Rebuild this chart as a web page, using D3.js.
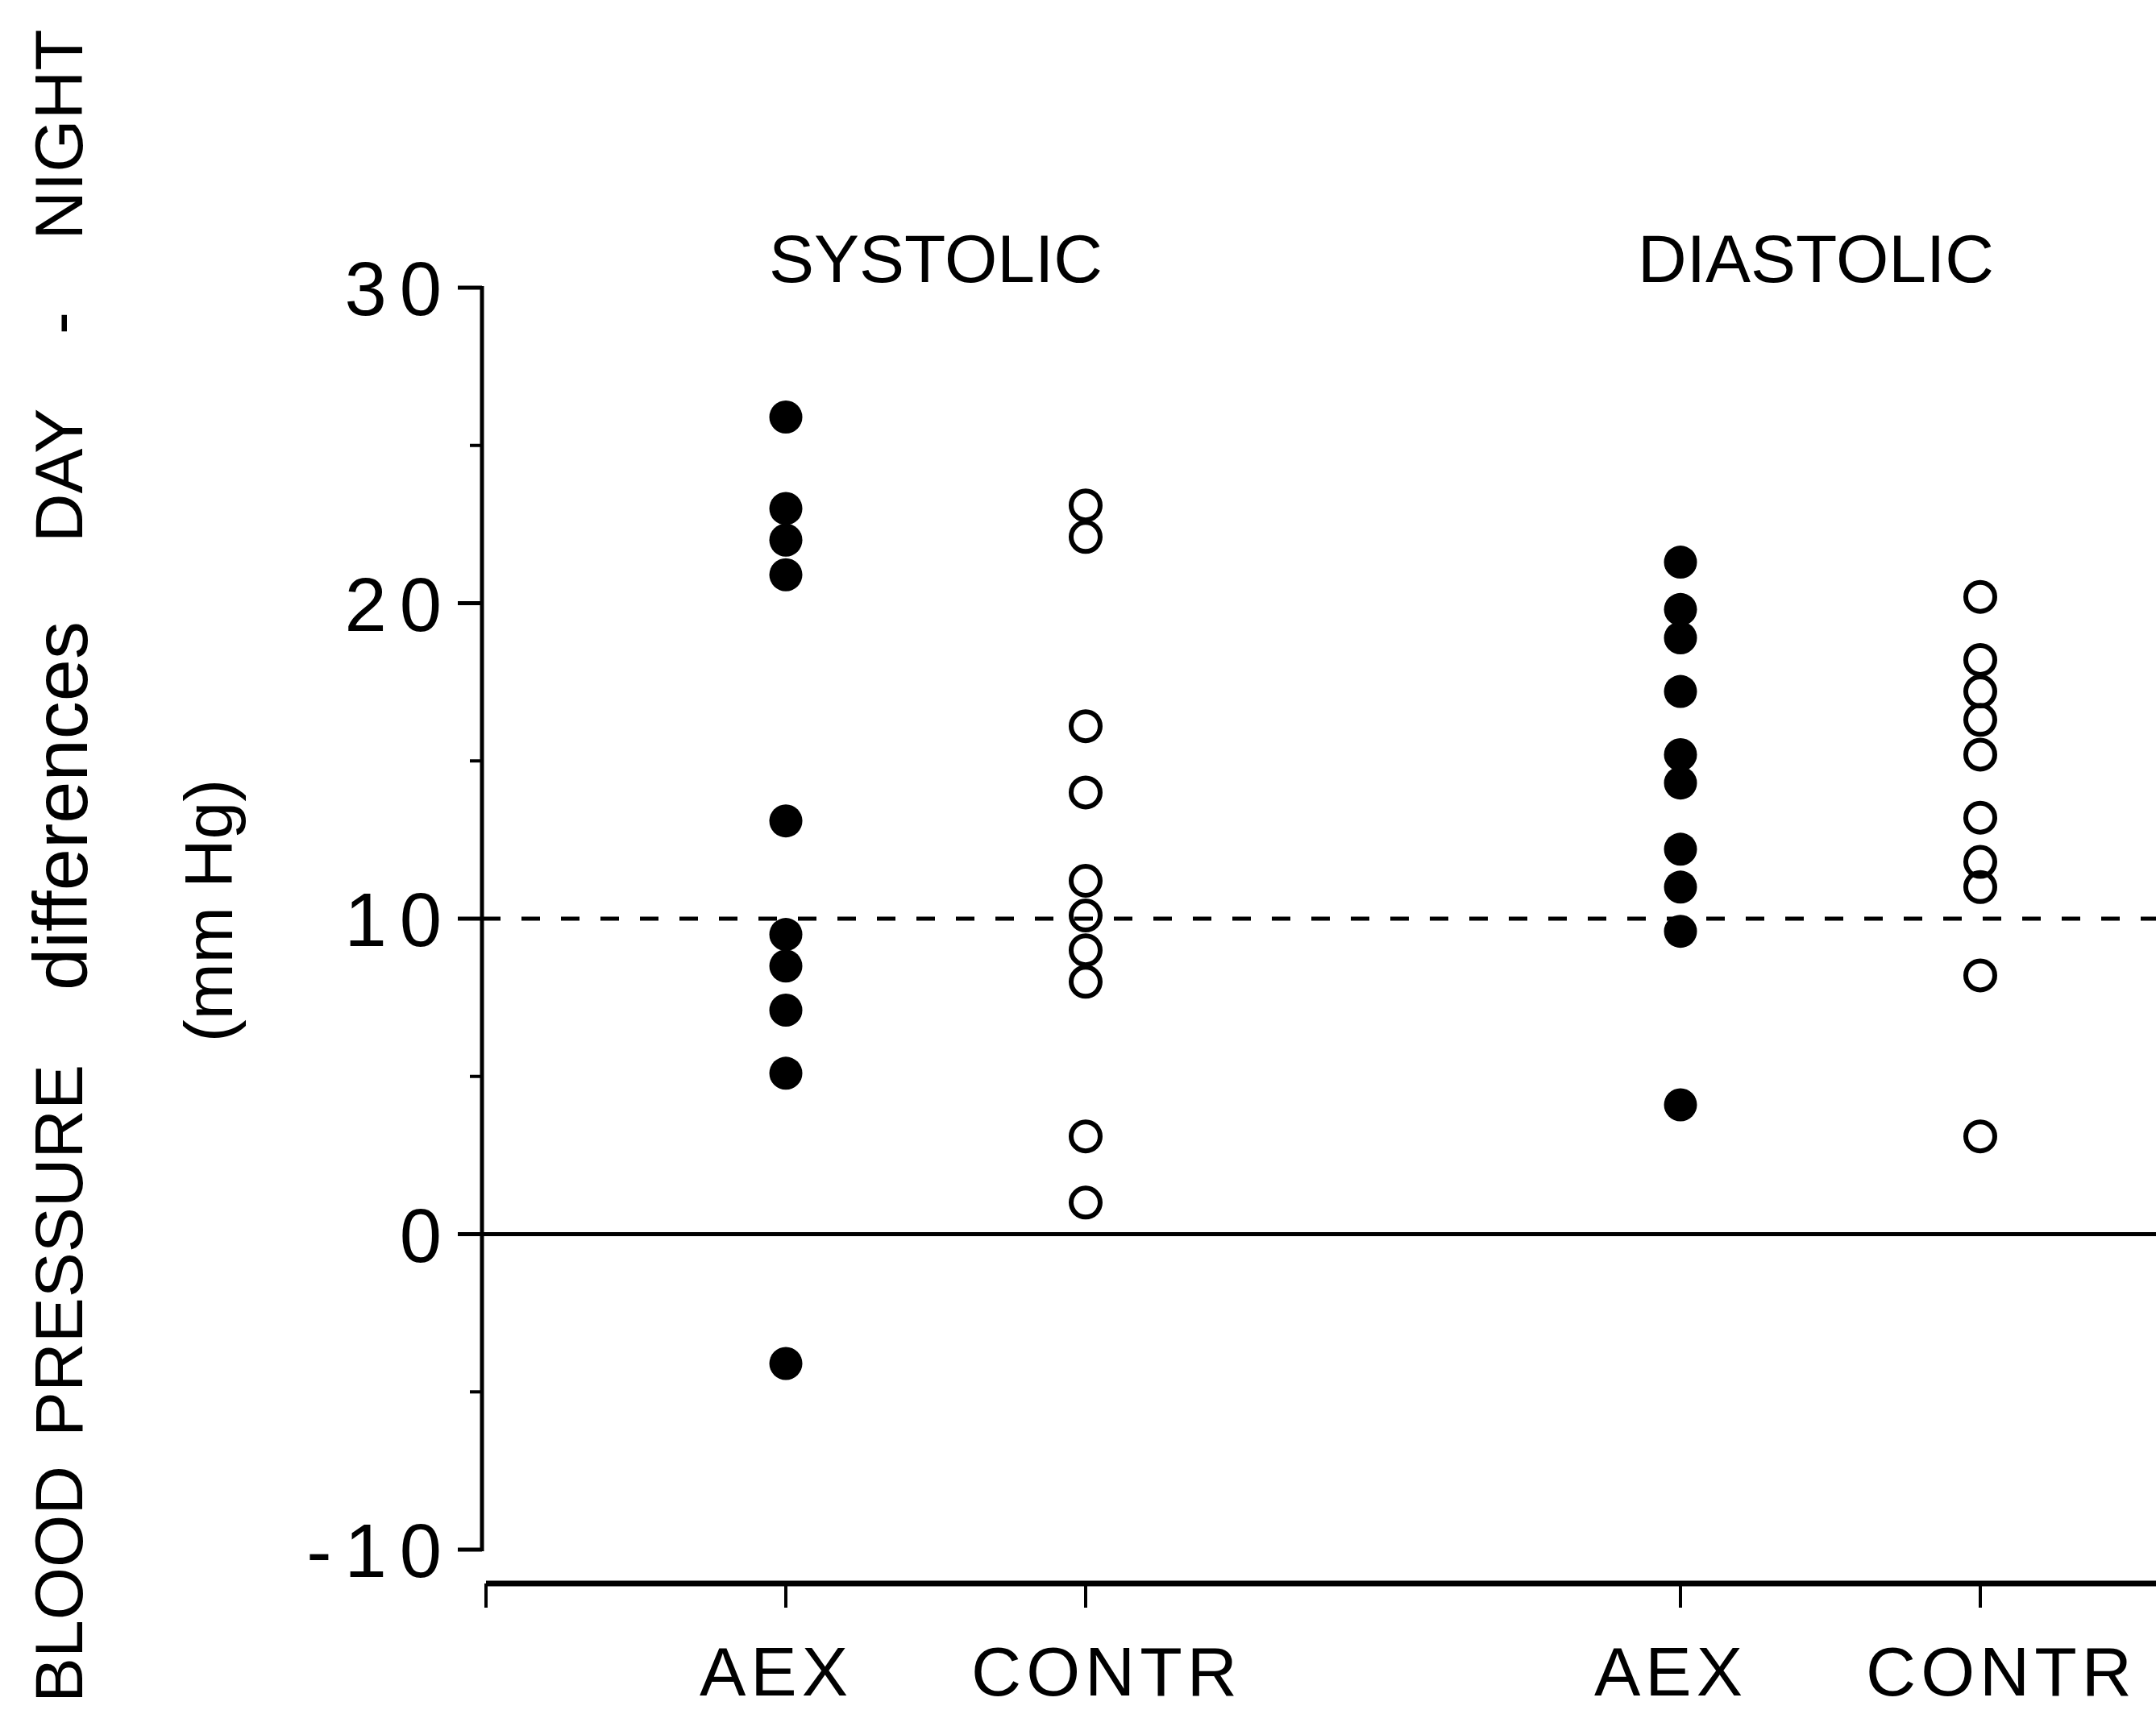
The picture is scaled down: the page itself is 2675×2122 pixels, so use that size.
<!DOCTYPE html>
<html>
<head>
<meta charset="utf-8">
<script src="https://cdn.jsdelivr.net/npm/d3@7"></script>
<style>
  html, body { margin: 0; padding: 0; background: #fff; }
  svg { display: block; }
  text { font-family: "Liberation Sans", Arial, sans-serif; fill: #000; }
</style>
</head>
<body>
<script>
// the data
const groups = ["SYSTOLIC", "DIASTOLIC"]
const arms = ["AEX", "CONTR"]
const sysAEX = [25.9, 23, 22, 20.9, 13.1, 9.5, 8.5, 7.1, 5.1, -4.1]
const sysCONTR = [23.1, 22.1, 16.1, 14, 11.2, 10.1, 9, 8, 3.1, 1]
const diaAEX = [21.3, 19.8, 18.9, 17.2, 15.2, 14.3, 12.2, 11, 9.6, 4.1]
const diaCONTR = [20.2, 18.2, 17.2, 16.3, 15.2, 13.2, 11.8, 11, 8.2, 3.1]
const yTicks = [-10, 0, 10, 20, 30]
const yMinorTicks = [-5, 5, 15, 25]
const refLine = 10
const yTitleWords = ["BLOOD", "PRESSURE", "differences", "DAY", "-", "NIGHT"]
const yUnit = "(mm Hg)"

const W = 2675, H = 2122

const svg = d3.select("body")
    .append("svg")
    .attr("width", W)
    .attr("height", H)

svg.append("rect").attr("width", W).attr("height", H).attr("fill", "#fff")

// scales
const yScale = d3.scaleLinear().domain([-10, 30]).range([1923, 357])
const xGroup = d3.scaleBand().domain(groups).range([606, 2826])
const xArm = d3.scalePoint().domain(arms).range([0, xGroup.bandwidth()]).padding(0.992)
const xPos = (g, a) => xGroup(g) + xArm(a)

const axisX = 598
const baseY = 1965

// y axis (line + ticks by hand so the look matches)
svg.append("line")
    .attr("x1", axisX).attr("x2", axisX)
    .attr("y1", yScale(30) - 2).attr("y2", yScale(-10) + 2)
    .attr("stroke", "#000").attr("stroke-width", 5)

svg.selectAll(".ymaj")
    .data(yTicks)
    .enter()
    .append("line")
    .attr("x1", axisX - 30).attr("x2", axisX)
    .attr("y1", d => yScale(d)).attr("y2", d => yScale(d))
    .attr("stroke", "#000").attr("stroke-width", 5)

svg.selectAll(".ymin")
    .data(yMinorTicks)
    .enter()
    .append("line")
    .attr("x1", axisX - 15).attr("x2", axisX)
    .attr("y1", d => yScale(d)).attr("y2", d => yScale(d))
    .attr("stroke", "#000").attr("stroke-width", 4)

svg.selectAll(".ylab")
    .data(yTicks)
    .enter()
    .append("text")
    .attr("x", 548 + 16)
    .attr("y", d => yScale(d) + 34)
    .attr("text-anchor", "end")
    .attr("font-size", 94)
    .attr("letter-spacing", 16)
    .text(d => d)

// x axis
const armTicks = []
groups.forEach(g => arms.forEach(a => armTicks.push({ g: g, a: a })))

svg.append("line")
    .attr("x1", 603).attr("x2", W)
    .attr("y1", baseY).attr("y2", baseY)
    .attr("stroke", "#000").attr("stroke-width", 7)

svg.append("line")
    .attr("x1", 603).attr("x2", 603)
    .attr("y1", baseY).attr("y2", baseY + 30)
    .attr("stroke", "#000").attr("stroke-width", 4)

svg.selectAll(".xtick")
    .data(armTicks)
    .enter()
    .append("line")
    .attr("x1", d => xPos(d.g, d.a)).attr("x2", d => xPos(d.g, d.a))
    .attr("y1", baseY).attr("y2", baseY + 30)
    .attr("stroke", "#000").attr("stroke-width", 4)

svg.selectAll(".xlab")
    .data(armTicks)
    .enter()
    .append("text")
    .attr("x", d => xPos(d.g, d.a) + (d.a == "AEX" ? -12 : 26))
    .attr("y", 2104)
    .attr("text-anchor", "middle")
    .attr("font-size", 86)
    .attr("letter-spacing", 6)
    .text(d => d.a)

// group titles
svg.selectAll(".gtitle")
    .data(groups)
    .enter()
    .append("text")
    .attr("x", d => xGroup(d) + xGroup.bandwidth() / 2 + (d == "DIASTOLIC" ? -18 : 0))
    .attr("y", 350)
    .attr("text-anchor", "middle")
    .attr("font-size", 84)
    .text(d => d)

// zero line and dashed reference line
svg.append("line")
    .attr("x1", axisX).attr("x2", W)
    .attr("y1", yScale(0)).attr("y2", yScale(0))
    .attr("stroke", "#000").attr("stroke-width", 5)

svg.append("line")
    .attr("x1", axisX).attr("x2", W)
    .attr("y1", yScale(refLine)).attr("y2", yScale(refLine))
    .attr("stroke", "#000").attr("stroke-width", 5)
    .attr("stroke-dasharray", "23,26")

// points
const series = [
    { g: "SYSTOLIC", a: "AEX", vals: sysAEX, filled: true },
    { g: "SYSTOLIC", a: "CONTR", vals: sysCONTR, filled: false },
    { g: "DIASTOLIC", a: "AEX", vals: diaAEX, filled: true },
    { g: "DIASTOLIC", a: "CONTR", vals: diaCONTR, filled: false }
]

series.forEach(s => {
    svg.selectAll(null)
        .data(s.vals)
        .enter()
        .append("circle")
        .attr("cx", xPos(s.g, s.a))
        .attr("cy", d => yScale(d))
        .attr("r", s.filled ? 20.5 : 18)
        .attr("fill", s.filled ? "#000" : "none")
        .attr("stroke", "#000")
        .attr("stroke-width", s.filled ? 0 : 6)
})

// y titles, rotated, one word at a time so the wide gaps match
const wordCenters = [1966, 1552, 1000, 590, 401, 167]
svg.selectAll(".ytitle")
    .data(yTitleWords)
    .enter()
    .append("text")
    .attr("transform", (d, i) => "translate(" + (d == "differences" ? 108 : 102) + "," + wordCenters[i] + ") rotate(-90)")
    .attr("text-anchor", "middle")
    .attr("font-size", d => d == "differences" ? 94 : 84)
    .text(d => d)

svg.append("text")
    .attr("transform", "translate(288,1130) rotate(-90)")
    .attr("text-anchor", "middle")
    .attr("font-size", 84)
    .text(yUnit)
</script>
</body>
</html>
